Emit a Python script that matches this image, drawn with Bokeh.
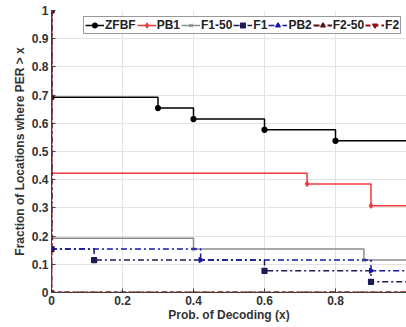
from bokeh.plotting import figure
from bokeh.models import FixedTicker, Legend
from bokeh.embed import file_html
from bokeh.resources import INLINE
import math

# Data (drop positions and levels; first point (0,1) starts each stair)
zfbf_x = [0, 0, 0.3, 0.4, 0.6, 0.8]
zfbf_y = [1, 0.692, 0.654, 0.615, 0.577, 0.538]
pb1_x = [0, 0, 0.72, 0.9]
pb1_y = [1, 0.423, 0.385, 0.308]
f150_x = [0, 0, 0.4, 0.88]
f150_y = [1, 0.192, 0.154, 0.115]
f1_x = [0, 0, 0.12, 0.6, 0.9]
f1_y = [1, 0.154, 0.115, 0.077, 0.038]
pb2_x = [0, 0, 0.42, 0.9]
pb2_y = [1, 0.154, 0.115, 0.077]
f250_x = [0, 0]
f250_y = [1, 0]
f2_x = [0, 0]
f2_y = [1, 0]

x_ticks = [0, 0.2, 0.4, 0.6, 0.8, 1.0]
y_ticks = [0, 0.1, 0.2, 0.3, 0.4, 0.5, 0.6, 0.7, 0.8, 0.9, 1.0]
y_tick_labels = {0: "0", 0.1: "0.1", 0.2: "0.2", 0.3: "0.3", 0.4: "0.4", 0.5: "0.5",
                 0.6: "0.6", 0.7: "0.7", 0.8: "0.8", 0.9: "0.9", 1.0: "1"}
x_tick_labels = {0: "0", 0.2: "0.2", 0.4: "0.4", 0.6: "0.6", 0.8: "0.8", 1.0: ""}

FONT = "Liberation Sans"
TXT = "#333333"

p = figure(frame_width=355, frame_height=282, output_backend="svg", toolbar_location=None,
           x_range=(0, 1), y_range=(0, 1), min_border_left=51, min_border_right=0,
           min_border_top=10, min_border_bottom=0)
p.outline_line_color = None
p.background_fill_color = "white"

for ax in (p.xaxis[0], p.yaxis[0]):
    ax.major_label_text_font = FONT
    ax.major_label_text_font_style = "bold"
    ax.major_label_text_font_size = "12px"
    ax.major_label_text_color = TXT
    ax.axis_label_text_font = FONT
    ax.axis_label_text_font_style = "bold"
    ax.axis_label_text_font_size = "12px"
    ax.axis_label_text_color = TXT
    ax.axis_line_color = "#404040"
    ax.major_tick_line_color = "#404040"
    ax.major_tick_in = 4
    ax.major_tick_out = 0
    ax.minor_tick_line_color = None
    ax.major_label_standoff = 3
    ax.axis_label_standoff = 2
p.xaxis[0].axis_label_standoff = 0

p.xaxis.ticker = FixedTicker(ticks=x_ticks)
p.yaxis.ticker = FixedTicker(ticks=y_ticks)
p.xaxis.major_label_overrides = x_tick_labels
p.yaxis.major_label_overrides = y_tick_labels
p.xaxis.axis_label = "Prob. of Decoding (x)"
p.yaxis.axis_label = "Fraction of Locations where PER > x"
p.xgrid.grid_line_color = "#e3e3e3"
p.ygrid.grid_line_color = "#e3e3e3"

series = [
    ("ZFBF", zfbf_x, zfbf_y, "black", "solid", "circle", 0, 1.5),
    ("PB1", pb1_x, pb1_y, "#f23a3a", "solid", "diamond", 0, 1.5),
    ("F1-50", f150_x, f150_y, "#8c8c8c", "solid", "x", 0, 1.5),
    ("F1", f1_x, f1_y, "#1c1c55", "6 3 2 3", "square", 0, 1.5),
    ("PB2", pb2_x, pb2_y, "#1414a8", "6 3 2 3", "triangle", -math.pi / 2, 1.5),
    ("F2-50", f250_x, f250_y, "#5c1010", "6 3 2 3", "triangle", math.pi / 2, 1.8),
    ("F2", f2_x, f2_y, "#8b1010", "5 3", "inverted_triangle", 0, 1.8),
]

items = []
for name, xs, ys, color, dash, marker, ang, lw in series:
    lx = list(xs) + [1.0]
    ly = list(ys) + [ys[-1]]
    r1 = p.step(lx, ly, mode="after", line_color=color, line_width=lw, line_dash=dash)
    r2 = p.scatter(xs, ys, marker=marker, size=5, angle=ang, line_color=color,
                   fill_color=color, line_width=1.2)
    items.append((name, [r1, r2]))

legend = Legend(items=items, orientation="horizontal", location=(32, 258))
legend.label_text_font = FONT
legend.label_text_font_style = "bold"
legend.label_text_font_size = "12px"
legend.label_text_color = "#222222"
legend.label_height = 12
legend.label_width = 10
legend.glyph_height = 12
legend.glyph_width = 19
legend.label_standoff = 1
legend.spacing = 1
legend.padding = 1
legend.margin = 0
legend.border_line_color = "#333333"
legend.border_line_width = 1
legend.background_fill_alpha = 1.0
p.add_layout(legend, "center")

open("out.html", "w").write(file_html(p, INLINE))
